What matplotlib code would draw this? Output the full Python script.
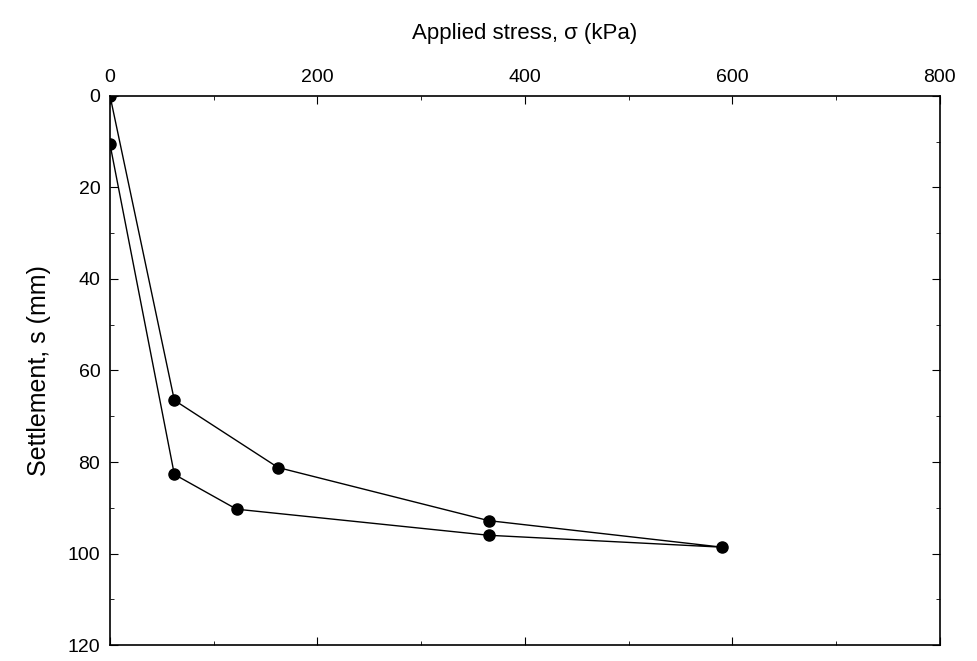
import matplotlib.pyplot as plt
from matplotlib.ticker import MultipleLocator

plt.rcParams['font.family'] = ['Liberation Sans', 'DejaVu Sans']

stress = [0, 62, 162, 365, 590, 365, 122, 62, 0]
settlement = [0, 66.5, 81.2, 92.8, 98.6, 96.0, 90.3, 82.7, 10.6]

fig = plt.figure(figsize=(9.78, 6.61), dpi=100)
ax = fig.add_axes([0.1125, 0.024, 0.8485, 0.831])
ax.plot(stress, settlement, 'k-', lw=1, marker='o', ms=8, mfc='black')
ax.set_xlim(0, 800)
ax.set_ylim(120, 0)
ax.xaxis.set_major_locator(MultipleLocator(200))
ax.xaxis.set_minor_locator(MultipleLocator(100))
ax.yaxis.set_major_locator(MultipleLocator(20))
ax.yaxis.set_minor_locator(MultipleLocator(10))
ax.xaxis.tick_top()
ax.xaxis.set_label_position('top')
ax.tick_params(which='both', direction='in', top=True, bottom=True, left=True, right=True,
               labelsize=14, pad=7)
ax.tick_params(which='major', length=6)
ax.tick_params(which='minor', length=3)
ax.set_xlabel('Applied stress, σ (kPa)', fontsize=16, labelpad=22)
ax.set_ylabel('Settlement, s (mm)', fontsize=18, labelpad=12)
for s in ax.spines.values():
    s.set_linewidth(1.2)
fig.savefig('out.png', dpi=100)
